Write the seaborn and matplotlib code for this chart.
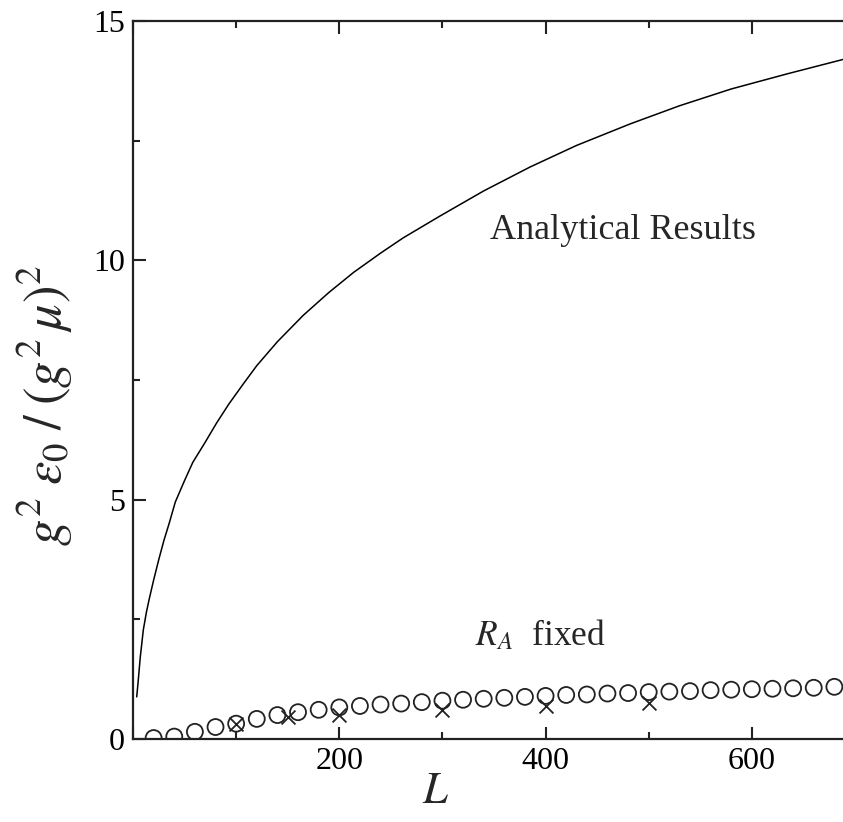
import matplotlib
matplotlib.use("Agg")
import matplotlib.pyplot as plt
from matplotlib.ticker import MultipleLocator
import seaborn as sns
import pandas as pd

# Analytical curve
curve_L = [3.6, 5, 7, 10, 13, 16, 20, 25, 30, 35, 41, 50, 58, 70, 81, 93, 107, 120, 140, 165,
           190, 214, 240, 262, 298, 340, 385, 430, 482, 530, 580, 635, 689]
curve_y = [0.88, 1.2, 1.7, 2.28, 2.65, 2.95, 3.32, 3.75, 4.15, 4.5, 4.95, 5.4, 5.78, 6.2, 6.6,
           7.0, 7.42, 7.8, 8.3, 8.85, 9.33, 9.75, 10.15, 10.47, 10.93, 11.45, 11.95, 12.4,
           12.85, 13.23, 13.58, 13.9, 14.2]

# R_A fixed (circles)
circ_L = [20, 40, 60, 80, 100, 120, 140, 160, 180, 200, 220, 240, 260, 280, 300, 320, 340,
          360, 380, 400, 420, 440, 460, 480, 500, 520, 540, 560, 580, 600, 620, 640, 660, 680]
circ_y = [0.02, 0.05, 0.15, 0.25, 0.32, 0.42, 0.50, 0.56, 0.61, 0.66, 0.69, 0.72, 0.74, 0.77,
          0.80, 0.82, 0.84, 0.86, 0.88, 0.90, 0.92, 0.93, 0.95, 0.96, 0.98, 0.99, 1.00, 1.02,
          1.03, 1.04, 1.05, 1.06, 1.07, 1.09]

# crosses
cross_L = [100, 150, 200, 300, 400, 500]
cross_y = [0.31, 0.47, 0.51, 0.61, 0.68, 0.75]

sns.set_style("ticks")
plt.rcParams['font.family'] = ['Liberation Serif', 'DejaVu Serif']
plt.rcParams['mathtext.fontset'] = 'stix'

fig = plt.figure(figsize=(8.43, 8.22), dpi=100)
ax = fig.add_axes([133/843, 1-739/822, 1 - 133/843 + 0.002, (739-21)/822])

df_curve = pd.DataFrame({"L": curve_L, "y": curve_y})
df_circ = pd.DataFrame({"L": circ_L, "y": circ_y})
df_cross = pd.DataFrame({"L": cross_L, "y": cross_y})

sns.lineplot(data=df_curve, x="L", y="y", ax=ax, color="black", lw=1.1, sort=True)
sns.scatterplot(data=df_circ, x="L", y="y", ax=ax, marker="o", s=11.5**2,
                facecolor="none", edgecolor="#222222", linewidth=1.3, zorder=3)
ax.scatter(df_cross["L"], df_cross["y"], marker="x", s=10**2, color="#222222",
           linewidth=1.3, zorder=3)

ax.set_xlim(0, 690)
ax.set_ylim(0, 15)

ax.xaxis.set_major_locator(MultipleLocator(200))
ax.xaxis.set_minor_locator(MultipleLocator(100))
ax.yaxis.set_major_locator(MultipleLocator(5))
ax.yaxis.set_minor_locator(MultipleLocator(2.5))
ax.tick_params(which='both', direction='in', top=True, right=False, width=1.5, colors='#222222')
ax.tick_params(which='major', length=9, labelsize=23, pad=6, labelcolor='black')
ax.tick_params(which='minor', length=5)
ax.xaxis.set_major_formatter(plt.FuncFormatter(lambda v, p: "" if v == 0 else f"{int(v)}"))

for s in ['left', 'bottom', 'top']:
    ax.spines[s].set_linewidth(1.6)
    ax.spines[s].set_color('#222222')
ax.spines['right'].set_visible(False)

ax.set_xlabel(r'$L$', fontsize=32)
ax.xaxis.set_label_coords(0.425, -0.046)
ax.set_ylabel(r'$g^{2}\;\varepsilon_{0}\;/\;(g^{2}\,\mu)^{2}$', fontsize=38)
ax.yaxis.set_label_coords(-0.082, 0.465)

ax.text(346, 10.45, "Analytical Results", fontsize=26, ha='left', va='baseline')
ax.text(332, 1.96, r'$R_A$  fixed', fontsize=25.5, ha='left', va='baseline')

fig.savefig("out.png", dpi=100)
